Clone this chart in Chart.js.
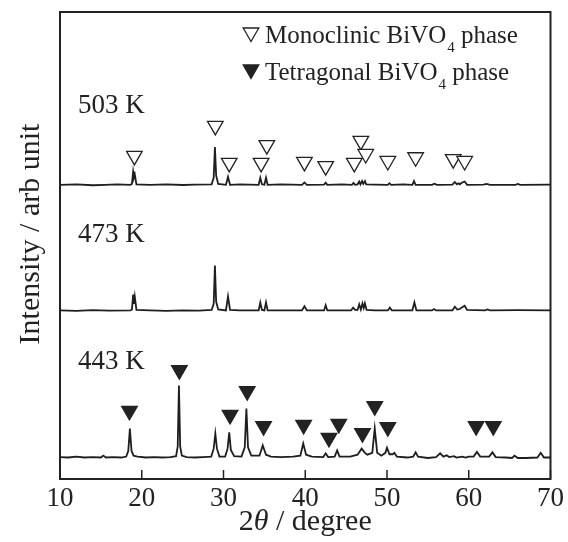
<!DOCTYPE html>
<html lang="en">
<head>
<meta charset="UTF-8">
<title>BiVO4 XRD patterns</title>
<script src="https://cdn.jsdelivr.net/npm/chart.js@4.4.0/dist/chart.umd.min.js"></script>
<style>
body { margin: 0; background: #fff; }
#wrap { width: 568px; height: 542px; }
</style>
</head>
<body>
<div id="wrap"><canvas id="chart" width="568" height="542"></canvas></div>
<script>
// 2theta (degree) and stacked intensity (arb. unit)
var theta503 = [10, 12, 14, 15.5, 17, 18.6, 18.8, 18.95, 19.05, 19.15, 19.35, 21, 23, 25, 26.5, 28.55, 28.8, 28.95, 29.1, 29.35, 30.3, 30.55, 30.8, 32, 34.3, 34.5, 34.7, 35.0, 35.2, 35.4, 37, 39.6, 39.9, 40.2, 42.3, 42.5, 42.7, 44.5, 45.7, 45.9, 46.1, 46.4, 46.6, 46.75, 46.95, 47.1, 47.3, 47.45, 48.5, 50.1, 50.3, 50.5, 52, 53.1, 53.3, 53.5, 55.5, 55.8, 56.1, 58.0, 58.3, 58.55, 58.75, 58.9, 59.2, 59.5, 59.8, 61.8, 62.2, 62.6, 65.7, 66.0, 66.3, 70];
var int503 = [63.0, 63.1, 62.9, 63.0, 63.1, 63.0, 63.2, 65.8, 64.6, 65.2, 63.1, 63.0, 63.1, 62.95, 63.05, 63.1, 64.5, 71.1, 65.0, 63.2, 63.0, 64.7, 63.0, 63.1, 63.0, 64.5, 63.1, 63.0, 64.5, 63.0, 63.1, 63.0, 63.5, 63.0, 63.05, 63.45, 63.0, 63.1, 63.0, 63.4, 63.0, 63.1, 63.7, 63.1, 63.8, 63.2, 63.8, 63.1, 63.05, 63.0, 63.35, 63.0, 63.1, 63.0, 63.8, 63.0, 63.0, 63.25, 63.0, 63.05, 63.6, 63.1, 63.3, 63.1, 63.5, 63.7, 63.0, 63.05, 63.2, 63.0, 63.0, 63.2, 63.0, 63.05];

var theta473 = [10, 12, 14, 16, 18.6, 18.8, 18.95, 19.05, 19.15, 19.35, 21, 23, 25, 27, 28.55, 28.8, 28.95, 29.1, 29.35, 30.3, 30.55, 30.8, 32, 34.3, 34.5, 34.7, 35.0, 35.2, 35.4, 37, 39.6, 39.9, 40.2, 42.3, 42.5, 42.7, 44.5, 45.6, 45.85, 46.1, 46.4, 46.6, 46.8, 47.0, 47.15, 47.3, 47.5, 48.5, 50.1, 50.35, 50.6, 52, 53.1, 53.35, 53.6, 55.5, 55.75, 56, 58.0, 58.3, 58.6, 58.9, 59.2, 59.5, 59.8, 62, 62.3, 62.6, 66, 70];
var int473 = [36.1, 36.0, 36.15, 36.05, 36.1, 36.3, 39.5, 37.5, 39.0, 36.2, 36.1, 36.0, 36.1, 36.05, 36.2, 37.5, 45.7, 38.0, 36.3, 36.1, 39.1, 36.2, 36.1, 36.1, 37.8, 36.2, 36.1, 37.8, 36.1, 36.1, 36.1, 37.0, 36.1, 36.1, 37.2, 36.1, 36.1, 36.1, 36.7, 36.2, 36.2, 37.4, 36.3, 37.6, 36.6, 37.6, 36.2, 36.1, 36.1, 36.7, 36.1, 36.1, 36.1, 37.8, 36.1, 36.1, 36.4, 36.1, 36.1, 36.9, 36.3, 36.4, 36.8, 37.1, 36.2, 36.1, 36.3, 36.1, 36.15, 36.1];

var theta443 = [10, 11, 12, 13, 14, 15, 15.3, 15.6, 16.5, 17.5, 18.1, 18.35, 18.55, 18.75, 19.0, 19.5, 20.5, 21.5, 22.5, 23.5, 24.2, 24.4, 24.55, 24.7, 24.9, 25.5, 26.5, 27.5, 28.5, 28.8, 29.0, 29.2, 29.5, 30.2, 30.5, 30.7, 30.9, 31.3, 32.2, 32.6, 32.8, 33.0, 33.4, 34.4, 34.8, 35.2, 35.8, 37, 38.5, 39.4, 39.75, 40.1, 40.8, 42.2, 42.5, 42.8, 43.6, 43.9, 44.2, 45.5, 46.4, 46.9, 47.3, 47.6, 48.2, 48.5, 48.8, 49.3, 49.8, 50.0, 50.3, 50.7, 50.9, 51.2, 52.5, 53.2, 53.5, 53.8, 55, 56.0, 56.5, 56.9, 57.3, 57.6, 58.2, 58.5, 59.2, 59.6, 60.0, 60.6, 61.0, 61.4, 62.5, 62.9, 63.3, 64.5, 65.3, 65.6, 66.0, 67, 68.4, 68.8, 69.2, 70];
var int443 = [4.7, 4.6, 4.8, 4.6, 4.7, 4.6, 5.0, 4.6, 4.7, 4.6, 4.8, 6.0, 10.8, 6.0, 5.0, 4.8, 4.6, 4.7, 4.6, 4.7, 4.9, 7.0, 20.0, 7.0, 5.0, 4.7, 4.6, 4.7, 4.8, 6.5, 9.7, 6.5, 4.8, 4.8, 6.5, 10.0, 6.2, 4.9, 4.8, 6.8, 15.1, 6.8, 5.0, 5.0, 7.2, 5.2, 4.8, 4.7, 4.8, 5.0, 7.6, 5.2, 4.8, 4.7, 5.5, 4.7, 4.8, 6.1, 4.8, 4.8, 5.2, 6.5, 5.6, 5.2, 5.6, 10.8, 5.6, 5.0, 5.6, 6.7, 5.3, 5.3, 5.6, 4.8, 4.6, 4.8, 5.7, 4.8, 4.5, 4.7, 5.5, 4.8, 5.1, 4.7, 4.9, 4.6, 4.8, 4.6, 4.8, 4.8, 5.8, 4.8, 4.8, 5.7, 4.7, 4.6, 4.5, 5.0, 4.5, 4.5, 4.6, 5.6, 4.6, 4.6];

// phase markers (open = monoclinic, filled = tetragonal)
var monoTheta = [19.1, 29.0, 30.7, 34.6, 35.3, 39.9, 42.5, 46.0, 46.8, 47.4, 50.1, 53.5, 58.1, 59.5];
var monoY = [69.2, 75.6, 67.7, 67.7, 71.5, 67.9, 67.0, 67.7, 72.4, 69.6, 68.1, 68.9, 68.5, 68.1];
var tetraTheta = [18.5, 24.6, 30.8, 32.9, 34.9, 39.8, 42.9, 44.1, 47.0, 48.5, 50.1, 60.9, 63.0];
var tetraY = [14.6, 23.3, 13.7, 18.8, 11.3, 11.6, 8.8, 11.8, 9.8, 15.6, 11.1, 11.3, 11.3];

var sampleNames = ['503 K', '473 K', '443 K'];
var sampleLabelX = 12.2;
var sampleLabelY = [79.9, 52.2, 25.0];
var xTicks = [10, 20, 30, 40, 50, 60, 70];

var serif = '"Liberation Serif", "Times New Roman", serif';
var ink = '#222';

function pts(xs, ys) {
	return xs.map(function (x, i) { return {x: x, y: ys[i]}; });
}

function triangle(ctx, x, y, r) {
	ctx.beginPath();
	ctx.moveTo(x - r * 0.866, y - r / 2);
	ctx.lineTo(x + r * 0.866, y - r / 2);
	ctx.lineTo(x, y + r);
	ctx.closePath();
}

var decor = {
	id: 'decor',
	afterDatasetsDraw: function (chart) {
		var ctx = chart.ctx, a = chart.chartArea;
		var xs = chart.scales.x, ys = chart.scales.y;
		ctx.save();

		// frame and inward ticks
		ctx.strokeStyle = ink;
		ctx.lineWidth = 2;
		ctx.strokeRect(a.left, a.top, a.right - a.left, a.bottom - a.top);
		ctx.lineWidth = 1.5;
		xTicks.forEach(function (t) {
			var px = xs.getPixelForValue(t);
			ctx.beginPath();
			ctx.moveTo(px, a.bottom);
			ctx.lineTo(px, a.bottom - 9);
			ctx.stroke();
		});

		// sample labels
		ctx.fillStyle = ink;
		ctx.font = '27px ' + serif;
		ctx.textAlign = 'left';
		ctx.textBaseline = 'middle';
		sampleNames.forEach(function (n, i) {
			ctx.fillText(n, xs.getPixelForValue(sampleLabelX), ys.getPixelForValue(sampleLabelY[i]));
		});

		// legend
		ctx.textBaseline = 'alphabetic';
		var rows = [['Monoclinic BiVO', false, 20.5], ['Tetragonal BiVO', true, 57.5]];
		rows.forEach(function (row) {
			var cy = a.top + row[2];
			triangle(ctx, a.left + 191, cy, 9);
			ctx.fillStyle = row[1] ? ink : '#fff';
			ctx.fill();
			ctx.lineWidth = 1.3;
			ctx.stroke();
			ctx.fillStyle = ink;
			var bx = a.left + 205, by = cy + 10.5;
			ctx.font = '25px ' + serif;
			ctx.fillText(row[0], bx, by);
			bx += ctx.measureText(row[0]).width;
			ctx.font = '15px ' + serif;
			ctx.fillText('4', bx + 1, by + 9);
			bx += ctx.measureText('4').width + 1;
			ctx.font = '25px ' + serif;
			ctx.fillText(' phase', bx, by);
		});

		// x title with italic theta
		var parts = [['2', '30px ' + serif], ['\u03b8', 'italic 30px ' + serif], [' / degree', '30px ' + serif]];
		var total = 0;
		parts.forEach(function (p) { ctx.font = p[1]; p.push(ctx.measureText(p[0]).width); total += p[2]; });
		var tx = (a.left + a.right) / 2 - total / 2;
		parts.forEach(function (p) { ctx.font = p[1]; ctx.fillText(p[0], tx, a.bottom + 51); tx += p[2]; });

		// y title
		ctx.translate(31, 234);
		ctx.rotate(-Math.PI / 2);
		ctx.textAlign = 'center';
		ctx.textBaseline = 'middle';
		ctx.font = '30px ' + serif;
		ctx.fillText('Intensity / arb unit', 0, 0);

		ctx.restore();
	}
};

var lineStyle = {borderColor: '#1e1e1e', borderWidth: 1.8, pointRadius: 0, tension: 0, fill: false, order: 1};

new Chart(document.getElementById('chart'), {
	type: 'line',
	data: {
		datasets: [
			{type: 'scatter', label: 'Monoclinic', data: pts(monoTheta, monoY), pointStyle: 'triangle', rotation: 180, pointRadius: 9, backgroundColor: '#fff', borderColor: ink, borderWidth: 1.3, order: 0},
			{type: 'scatter', label: 'Tetragonal', data: pts(tetraTheta, tetraY), pointStyle: 'triangle', rotation: 180, pointRadius: 9, backgroundColor: ink, borderColor: ink, borderWidth: 1.3, order: 0},
			Object.assign({label: '503 K', data: pts(theta503, int503)}, lineStyle),
			Object.assign({label: '473 K', data: pts(theta473, int473)}, lineStyle),
			Object.assign({label: '443 K', data: pts(theta443, int443)}, lineStyle)
		]
	},
	options: {
		responsive: false,
		animation: false,
		events: [],
		layout: {padding: {left: 60, right: 14, top: 12, bottom: 0}},
		plugins: {legend: {display: false}, tooltip: {enabled: false}},
		scales: {
			x: {
				type: 'linear', min: 10, max: 70,
				grid: {display: false, drawTicks: false},
				border: {display: false},
				ticks: {stepSize: 10, padding: 4, color: ink, font: {family: serif, size: 27}},
				afterFit: function (s) { s.height = 63; }
			},
			y: {type: 'linear', min: 0, max: 100, display: false}
		}
	},
	plugins: [decor]
});
</script>
</body>
</html>
